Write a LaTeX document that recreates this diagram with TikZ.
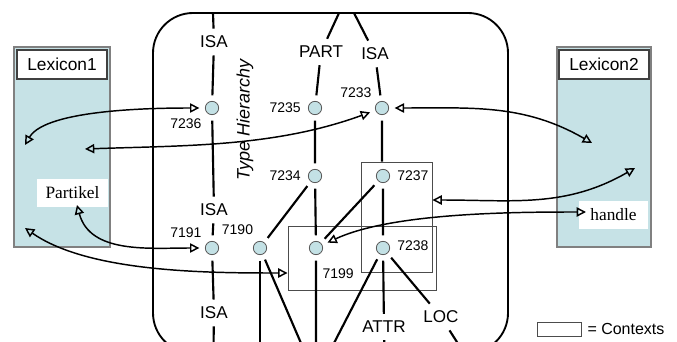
\documentclass[tikz,border=0pt]{standalone}
\usepackage{fontspec}
\setmainfont{Liberation Serif}
\setsansfont{Liberation Sans}
\usetikzlibrary{arrows,arrows.meta,fit,positioning}
\definecolor{lexblue}{RGB}{198,226,230}
\definecolor{nodeblue}{RGB}{195,225,229}
\tikzset{main node/.style={circle,fill=nodeblue,draw=black!65,line width=0.6pt,minimum size=10pt,inner sep=0pt,outer sep=4.5pt,label distance=-2.5pt},
         num/.style={font=\sffamily\fontsize{10.5}{12}\selectfont,inner sep=1pt},
         rel/.style={font=\sffamily\fontsize{12.8}{14}\selectfont,inner sep=1pt,outer sep=4.5pt},
         hier/.style={line width=1.6pt},
         lnk/.style={line width=1.1pt,{Triangle[open,length=7pt,width=7pt]}-{Triangle[open,length=7pt,width=7pt]}},
         ctx/.style={draw=black!70,line width=0.7pt,inner sep=0pt},
         lexbox/.style={draw=black!50,fill=lexblue,line width=0.8pt,inner sep=0pt},
         title box/.style={draw=black!75,fill=white,line width=0.8pt,font=\sffamily\fontsize{13}{15}\selectfont,minimum width=67.5pt,minimum height=21.75pt,inner sep=0pt},
         word box/.style={fill=white,font=\fontsize{13}{15}\selectfont,minimum height=21pt,inner sep=0pt}
}
\begin{document}
\begin{tikzpicture}[x=0.75pt,y=-0.75pt]
\useasboundingbox (0,0) rectangle (677,342);
\clip (0,0) rectangle (677,342);
\draw[line width=1.4pt,rounded corners=30pt] (153,13) rectangle (508,353);

\node[lexbox,fit={(14,47) (110,247)}] (lex1) {};
\node[title box,below=2.25pt of lex1.north] (title1) {Lexicon1};
\node[word box,minimum width=53.25pt] (partikel) at (72.5,192.5) {Partikel};
\node[lexbox,fit={(557,47) (651,247)}] (lex2) {};
\node[title box,below=2.25pt of lex2.north] (title2) {Lexicon2};
\node[word box,minimum width=51.75pt] (handle) at (613.5,215) {handle};

\node[ctx,fit={(288,226) (436,290)}] (ctxB) {};
\node[ctx,fit={(361,162) (432,272)}] (ctxS) {};
\node[rotate=90,font=\sffamily\itshape\fontsize{13.5}{16}\selectfont] (typeh) at (245,120) {Type Hierarchy};

\node[main node,label={[num]below left:7236}] (n7236) at (212,108) {};
\node[main node,label={[num]left:7235}] (n7235) at (315,108) {};
\node[main node,label={[num]above left:7233}] (n7233) at (382,108) {};
\node[main node,label={[num]left:7234}] (n7234) at (315,176) {};
\node[main node,label={[num]right:7237}] (n7237) at (383,176) {};
\node[main node,label={[num]above left:7191}] (n7191) at (212,248) {};
\node[main node,label={[num]115:7190}] (n7190) at (260,248) {};
\node[main node,label={[num,xshift=-3pt,yshift=-7.5pt]below right:7199}] (n7199) at (316,248) {};
\node[main node,label={[num,yshift=1.5pt]right:7238}] (n7238) at (383,248) {};

\node[rel] (isaA) at (214,42) {ISA};
\node[rel] (isaB) at (214,210) {ISA};
\node[rel] (isaC) at (214,313) {ISA};
\node[rel] (part) at (321,52) {PART};
\node[rel] (isaD) at (375,54) {ISA};
\node[rel] (attr) at (384,327) {ATTR};
\node[rel] (loc) at (441,317) {LOC};

\coordinate (topA) at (213,13);
\coordinate (topB) at (339,13);
\coordinate (topC) at (354,13);
\coordinate (botA) at (213,380);
\coordinate (sink) at (316,378);
\coordinate (down7190) at (260,390);
\coordinate (downAttr) at (385,380);
\coordinate (downLoc) at (478,375);

\draw[hier] (topA) -- (isaA) -- (n7236) -- (isaB) -- (n7191) -- (isaC) -- (botA);
\draw[hier] (topB) -- (part) -- (n7235) -- (n7234) -- (n7199) -- (sink);
\draw[hier] (topC) -- (isaD) -- (n7233) -- (n7233 |- ctxS.north);
\draw[hier] (n7234) -- (n7190) -- (sink);
\draw[hier] (n7190) -- (down7190);
\draw[hier] (n7237) -- (n7199);
\draw[hier] (n7237) -- (n7238) -- (sink);
\draw[hier] (n7238) -- (attr) -- (downAttr);
\draw[hier] (n7238) -- (loc) -- (downLoc);

\coordinate (l1a) at (25,145);
\coordinate (l1b) at (85,149);
\coordinate (pk) at (77,205);
\coordinate (l1c) at (25,228);
\coordinate (l2a) at (592,143);
\coordinate (l2b) at (635,168);
\coordinate (hd) at (586,212);
\coordinate (ctxBin) at (ctxB.west |- 0,273);
\coordinate (ctxSin) at (ctxS.east |- 0,200);

\draw[lnk] (l1a) to[out=60,in=180,looseness=0.6] (n7236);
\draw[lnk] (l1b) to[out=2,in=200,looseness=0.9] (n7233);
\draw[lnk] (n7233) to[out=0,in=150] (l2a);
\draw[lnk] (pk) to[out=-75,in=180] (n7191);
\draw[lnk] (l1c) to[out=-35,in=180,looseness=0.75] (ctxBin);
\draw[lnk] (ctxSin) to[out=0,in=210] (l2b);
\draw[lnk] (hd) to[out=180,in=25,looseness=0.7] (n7199);

\node[ctx,minimum width=33pt,minimum height=10.5pt] (legend) at (559,329) {};
\node[font=\sffamily\fontsize{12}{14}\selectfont,right=1pt of legend] (legtext) {= Contexts};
\end{tikzpicture}
\end{document}
